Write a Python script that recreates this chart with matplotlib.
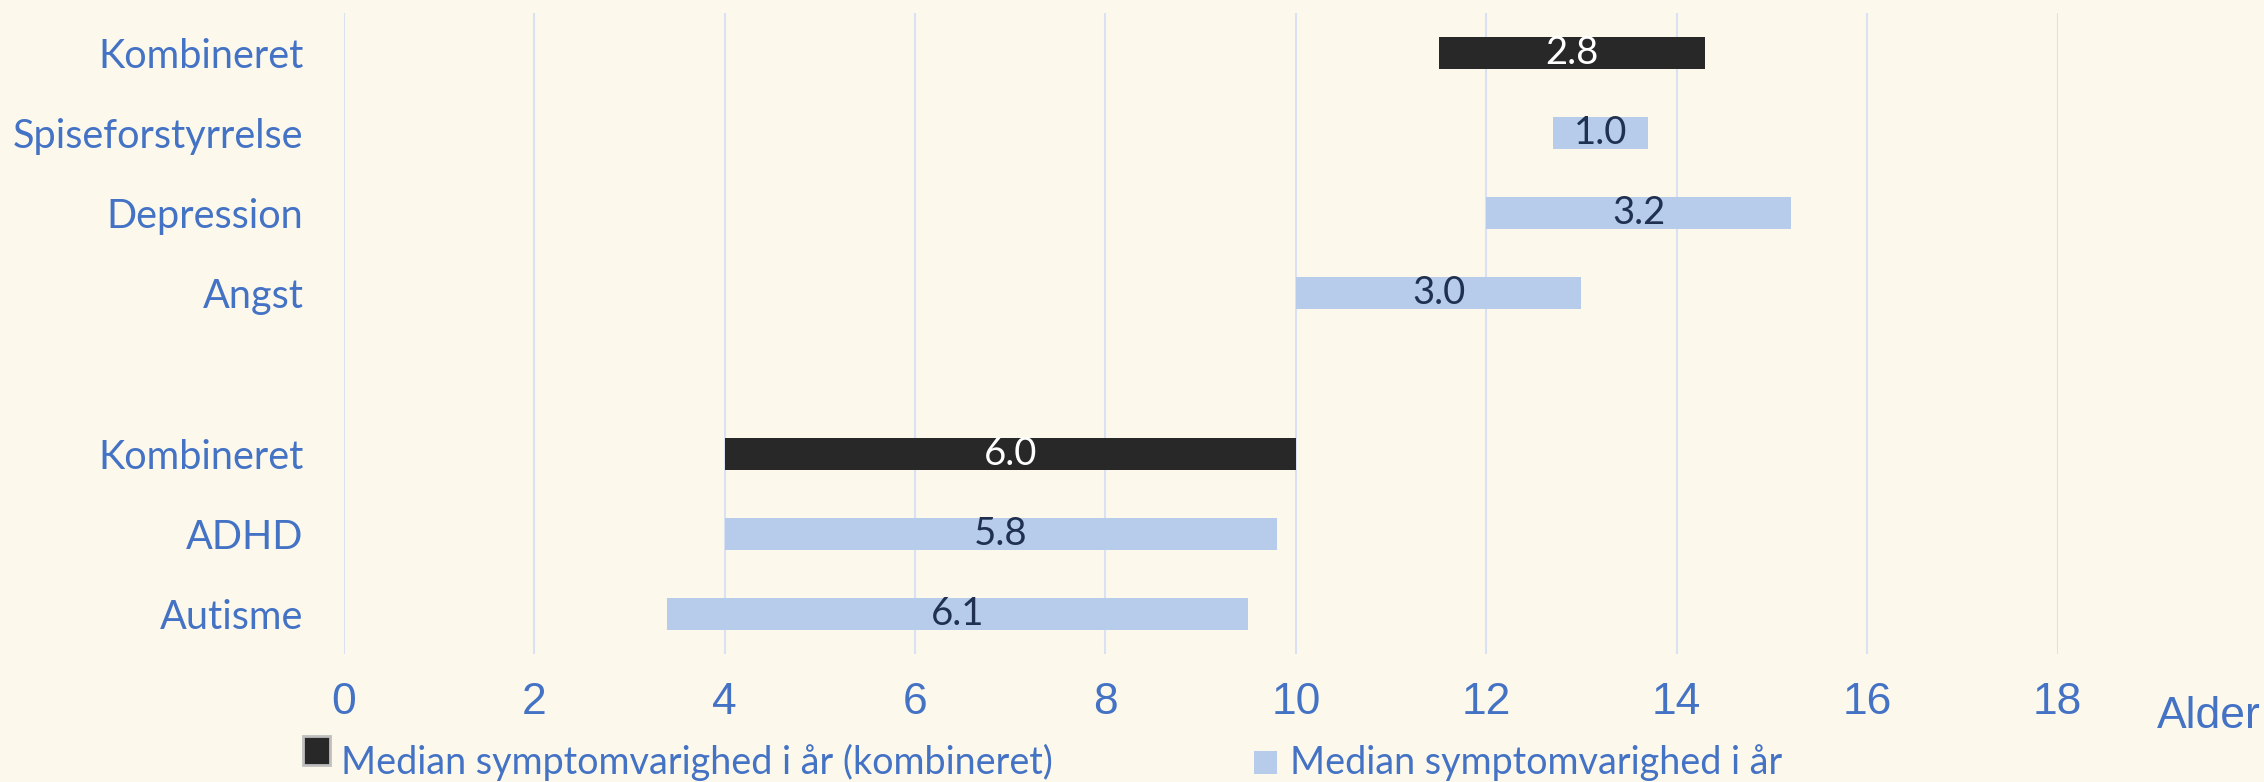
import numpy as np
import matplotlib.pyplot as plt
from matplotlib.patches import Rectangle

# -------------------------------------------------------------
# Data (alder ved symptomdebut og median varighed i år)
categories = ["Kombineret", "Spiseforstyrrelse", "Depression", "Angst", "",
              "Kombineret", "ADHD", "Autisme"]
onset = [11.5, 12.7, 12.0, 10.0, np.nan, 4.0, 4.0, 3.4]
duration = [2.8, 1.0, 3.2, 3.0, np.nan, 6.0, 5.8, 6.1]
combined = [True, False, False, False, False, True, False, False]
xticks = [0, 2, 4, 6, 8, 10, 12, 14, 16, 18]

legend_labels = ["Median symptomvarighed i år (kombineret)",
                 "Median symptomvarighed i år"]

# -------------------------------------------------------------
# Farver og fonte
bg = "#FCF9EC"
dark = "#282828"
light = "#B7CCEB"
label_blue = "#4472C4"
navy = "#1F3050"
grid_col = "#D9E1F2"
body_font = "Lato"
num_font = "Liberation Sans"

fig = plt.figure(figsize=(22.64, 7.82), dpi=100, facecolor=bg)
ax = fig.add_axes([0.1518, 0.1637, 0.757, 0.8197], facecolor=bg)

ypos = np.arange(len(categories))
for i in ypos:
    if np.isnan(duration[i]):
        continue
    col = dark if combined[i] else light
    ax.barh(i, duration[i], left=onset[i], height=0.4, color=col, zorder=3)
    ax.text(onset[i] + duration[i] / 2, i, f"{duration[i]:.1f}",
            ha="center", va="center", fontsize=27.5, family=body_font,
            color="white" if combined[i] else navy, zorder=4)

ax.set_xlim(0, 18)
ax.set_ylim(len(categories) - 0.5, -0.5)
ax.set_xticks(xticks)
ax.set_xticklabels([str(t) for t in xticks], fontsize=32, family=num_font,
                   color=label_blue)
ax.set_yticks(ypos)
ax.set_yticklabels(categories, fontsize=28.5, family=body_font, color=label_blue)
ax.tick_params(axis="x", length=0, pad=20)
ax.tick_params(axis="y", length=0, pad=29)
ax.grid(axis="x", color=grid_col, linewidth=1.5, zorder=0)
for s in ax.spines.values():
    s.set_visible(False)

fig.text(2157 / 2264, 1 - 717 / 782, "Alder", fontsize=32, family=num_font,
         color=label_blue, ha="left", va="center")

# Forklaring nederst
fig.patches.append(Rectangle((303 / 2264, 1 - 765 / 782), 27 / 2264, 29 / 782,
                             transform=fig.transFigure, facecolor=dark,
                             edgecolor="#BFBFBF", linewidth=2))
fig.patches.append(Rectangle((1254 / 2264, 1 - 774 / 782), 23 / 2264, 23 / 782,
                             transform=fig.transFigure, facecolor=light,
                             edgecolor="none"))
fig.text(341 / 2264, 1 - 774 / 782, legend_labels[0], fontsize=27.2,
         family=body_font, color=label_blue, ha="left", va="baseline")
fig.text(1290 / 2264, 1 - 774 / 782, legend_labels[1], fontsize=27.2,
         family=body_font, color=label_blue, ha="left", va="baseline")

fig.savefig("out.png", dpi=100, facecolor=bg)
